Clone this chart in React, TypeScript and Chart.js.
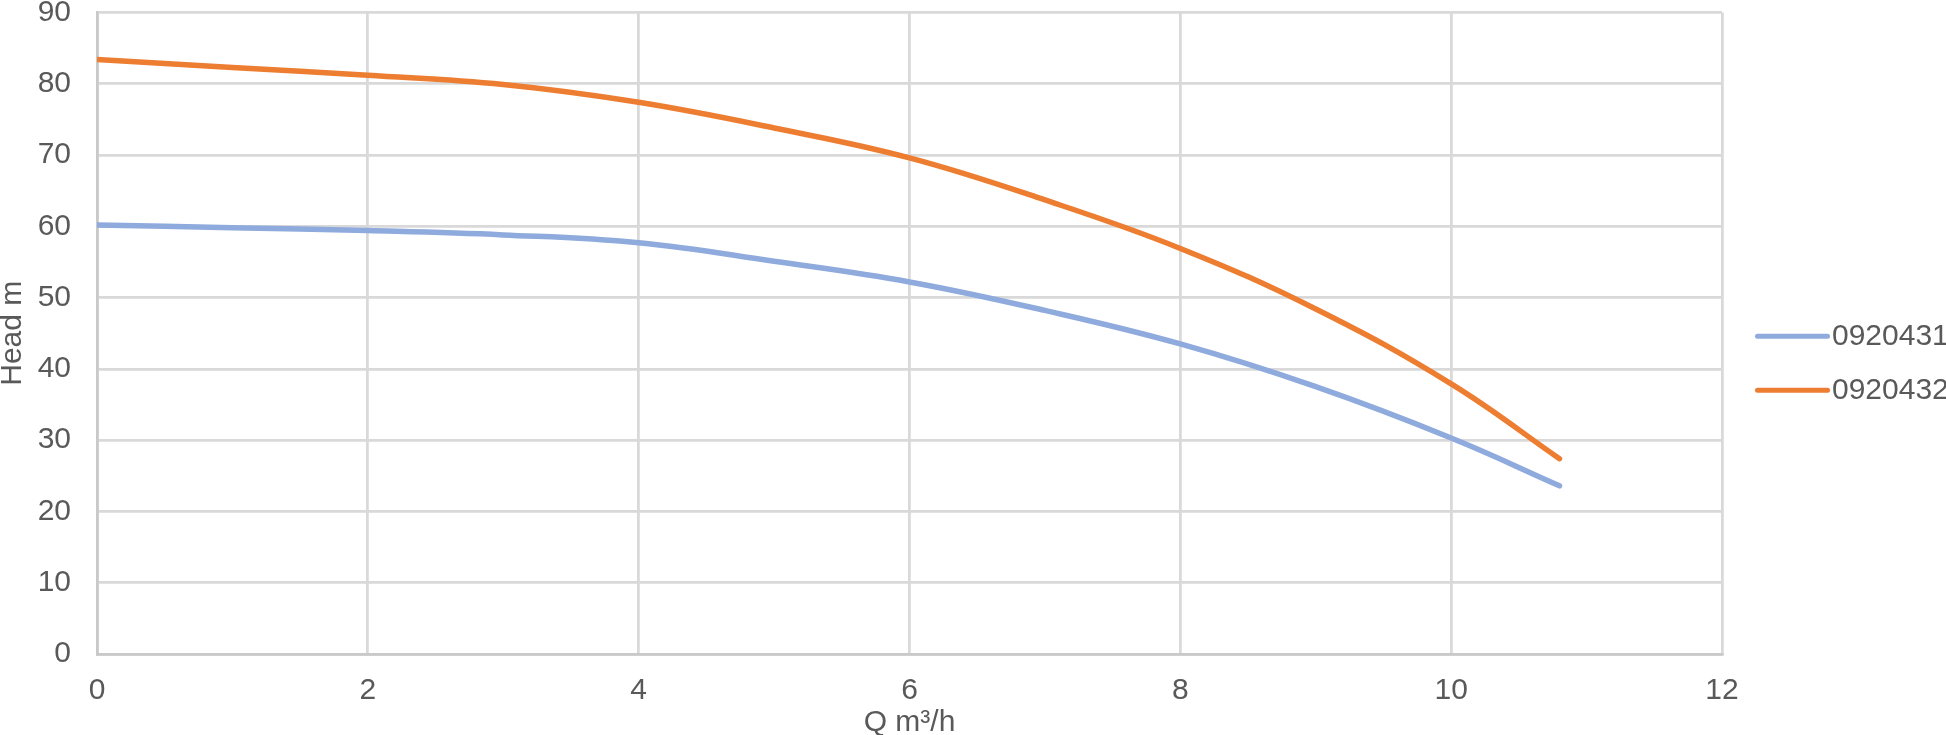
import React, { useEffect, useRef } from "react";
import { Chart, registerables } from "chart.js";

Chart.register(...registerables);

// flow rate Q (m³/h) and head (m)
const flow = [0, 1, 2, 3, 4, 5, 6, 7, 8, 9, 10, 10.8];
const head0920431 = [60.2, 59.8, 59.4, 58.8, 57.7, 55.1, 52.2, 48.2, 43.5, 37.5, 30.3, 23.6];
const head0920432 = [83.4, 82.3, 81.2, 79.9, 77.4, 73.8, 69.6, 63.7, 56.9, 48.4, 37.9, 27.4];
const seriesNames = ["0920431", "0920432"];
const seriesColors = ["#8FAADC", "#ED7D31"];

const FONT = '"Liberation Sans", Arial, sans-serif';
const TEXT = "#595959";

// Excel-style legend at the right of the plot
const sideLegend = {
  id: "sideLegend",
  afterDraw(chart: any) {
    const { ctx, chartArea } = chart;
    const x0 = chartArea.right + 33;
    let y = (chartArea.top + chartArea.bottom) / 2 + 3;
    ctx.save();
    chart.data.datasets.forEach((ds: any) => {
      ctx.strokeStyle = ds.borderColor;
      ctx.lineWidth = 5;
      ctx.lineCap = "round";
      ctx.beginPath();
      ctx.moveTo(x0 + 2.5, y);
      ctx.lineTo(x0 + 72.5, y);
      ctx.stroke();
      ctx.fillStyle = TEXT;
      ctx.font = `30px ${FONT}`;
      ctx.textBaseline = "middle";
      ctx.textAlign = "left";
      ctx.fillText(ds.label, x0 + 77, y);
      y += 54;
    });
    ctx.restore();
  },
};

const App: React.FC = () => {
  const canvasRef = useRef<HTMLCanvasElement>(null);

  useEffect(() => {
    if (!canvasRef.current) return;
    const ctx = canvasRef.current.getContext("2d");
    if (!ctx) return;

    const series = [head0920431, head0920432];
    const chart = new Chart(ctx, {
      type: "line",
      data: {
        datasets: series.map((values, i) => ({
          label: seriesNames[i],
          data: flow.map((q, j) => ({ x: q, y: values[j] })),
          borderColor: seriesColors[i],
          backgroundColor: seriesColors[i],
          borderWidth: 5.5,
          borderCapStyle: "round" as const,
          borderJoinStyle: "round" as const,
          pointRadius: 0,
          tension: 0.4,
          fill: false,
        })),
      },
      options: {
        animation: false,
        responsive: true,
        maintainAspectRatio: false,
        layout: { padding: { top: 0, right: 224, bottom: 0, left: 0 } },
        plugins: {
          legend: { display: false },
          tooltip: { enabled: false },
        },
        scales: {
          x: {
            type: "linear",
            min: 0,
            max: 12,
            afterFit: (scale: any) => {
              scale.height = 81;
            },
            ticks: {
              stepSize: 2,
              padding: 21.5,
              color: TEXT,
              font: { family: FONT, size: 30, lineHeight: 1 },
            },
            grid: { color: "#D9D9D9", lineWidth: 2.75, drawTicks: false },
            border: { color: "#C9C9C9", width: 2.75 },
            title: {
              display: true,
              text: "Q m³/h",
              color: TEXT,
              padding: { top: 0, bottom: 0 },
              font: { family: FONT, size: 30, lineHeight: 0.85 },
            },
          },
          y: {
            type: "linear",
            min: 0,
            max: 90,
            afterFit: (scale: any) => {
              scale.width = 97;
              scale.paddingTop = 12.5;
              scale.paddingBottom = 0;
            },
            ticks: {
              stepSize: 10,
              padding: 26,
              color: TEXT,
              font: { family: FONT, size: 30, lineHeight: 0.8 },
            },
            grid: { color: "#D9D9D9", lineWidth: 2.75, drawTicks: false },
            border: { color: "#C9C9C9", width: 2.75 },
            title: {
              display: true,
              text: "Head m",
              color: TEXT,
              padding: { top: 0, bottom: 0 },
              font: { family: FONT, size: 30, lineHeight: 0.88 },
            },
          },
        },
      },
      plugins: [sideLegend],
    });

    return () => {
      chart.destroy();
    };
  }, []);

  return (
    <div style={{ position: "fixed", left: 0, top: 0, width: 1946, height: 735, background: "#fff" }}>
      <canvas ref={canvasRef}></canvas>
    </div>
  );
};

export default App;
